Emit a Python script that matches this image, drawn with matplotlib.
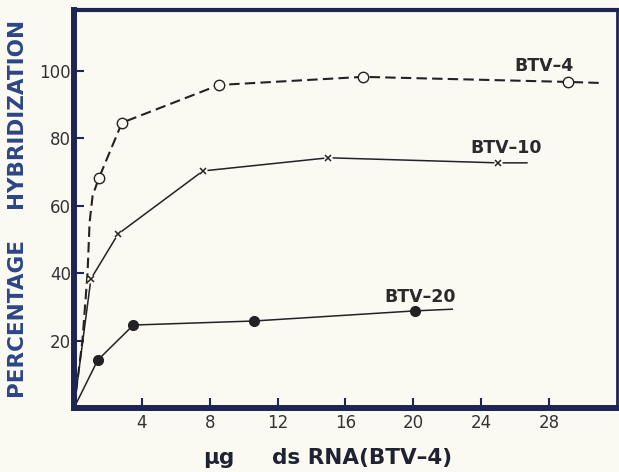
import matplotlib
matplotlib.use('Agg')
import matplotlib.pyplot as plt

# BTV-4 (open circles, dashed) - first points trace the hand drawn curve
btv4_x = [0, 0.5, 0.8, 0.92, 1.1, 1.47, 2.83, 8.55, 17.05, 29.1, 31.0]
btv4_y = [0, 20, 40, 55, 63, 68.2, 84.6, 95.8, 98.2, 96.7, 96.4]
btv4_marks = [5, 6, 7, 8, 9]

# BTV-10 (x, solid)
btv10_x = [0, 1.0, 2.6, 7.6, 15.0, 25.0, 26.7]
btv10_y = [0, 38.3, 51.6, 70.3, 74.2, 72.7, 72.7]
btv10_marks = [1, 2, 3, 4, 5]

# BTV-20 (filled circles, solid)
btv20_x = [0, 1.4, 3.5, 10.6, 20.1, 22.3]
btv20_y = [0, 14.2, 24.6, 25.8, 28.8, 29.3]
btv20_marks = [1, 2, 3, 4]

x_ticks = [4, 8, 12, 16, 20, 24, 28]
y_ticks = [20, 40, 60, 80, 100]

bg = '#fbfaf2'
navy = '#1d2554'
ink = '#222222'

fig = plt.figure(figsize=(6.19, 4.72), dpi=100, facecolor=bg)
ax = fig.add_axes([0.1195, 0.1356, 0.877, 0.843], facecolor=bg)

ax.plot(btv4_x, btv4_y, color=ink, lw=1.5, dashes=(5, 2.5),
        marker='o', markevery=btv4_marks, ms=7.5, mfc=bg, mec=ink, mew=1.0)

ax.plot(btv10_x, btv10_y, color=ink, lw=1.1)
ax.plot([btv10_x[i] for i in btv10_marks], [btv10_y[i] for i in btv10_marks],
        ls='none', marker='o', ms=6, mfc=bg, mec='none')
ax.plot([btv10_x[i] for i in btv10_marks], [btv10_y[i] for i in btv10_marks],
        ls='none', marker='x', ms=4, mec=ink, mew=1.1)

ax.plot(btv20_x, btv20_y, color=ink, lw=1.1,
        marker='o', markevery=btv20_marks, ms=7, mfc=ink, mec=ink)

lab = dict(fontsize=12.5, fontweight='bold', color='#2a2a2a', ha='center', va='center')
ax.text(27.7, 101.5, 'BTV\u20134', **lab)
ax.text(25.5, 77.2, 'BTV\u201310', **lab)
ax.text(20.4, 33.0, 'BTV\u201320', **lab)

ax.set_xlim(0, 32)
ax.set_ylim(0, 118)
ax.set_xticks(x_ticks)
ax.set_yticks(y_ticks)
ax.tick_params(direction='in', length=7, width=1.5, color=navy,
               labelsize=12, labelcolor='#333333')
ax.tick_params(axis='y', pad=2)
ax.tick_params(axis='x', pad=4)

for side, w in [('left', 4.3), ('bottom', 4.3), ('top', 3.0), ('right', 2.0)]:
    ax.spines[side].set_color(navy)
    ax.spines[side].set_linewidth(w)

ax.set_ylabel('PERCENTAGE    HYBRIDIZATION', fontsize=15.5, fontweight='bold',
              color='#2c4585', labelpad=8)

# x label: two pieces placed like the original lettering
xl = dict(fontsize=15.5, fontweight='bold', color='#1e2233', va='center', ha='left')
fig.text(203 / 619, 1 - 458 / 472, '\u00b5g', **xl)
fig.text(272 / 619, 1 - 458 / 472, 'ds RNA(BTV\u20134)', **xl)

fig.savefig('out.png', dpi=100, facecolor=bg)
